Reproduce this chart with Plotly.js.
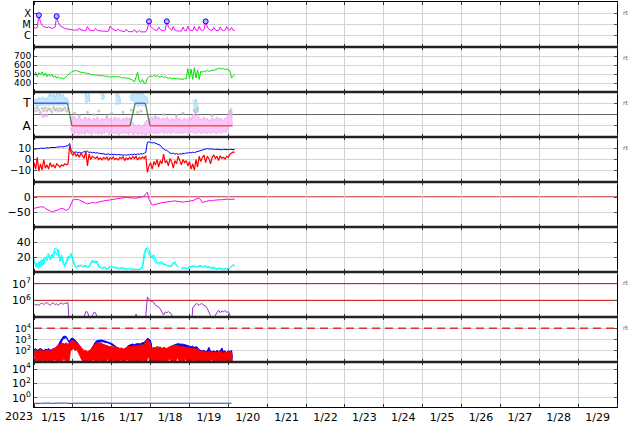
<!DOCTYPE html>
<html><head><meta charset="utf-8">
<script src="https://cdn.plot.ly/plotly-3.0.1.min.js"></script>
<style>html,body{margin:0;padding:0;background:#fff}#c{width:634px;height:424px}</style>
</head><body><div id="c"></div>
<script>
// ---- time base: hourly samples starting 2023-01-15 00:00 ----
const startDate = '2023-01-15';
const xRange = ['2023-01-15 00:00', '2023-01-30 00:00'];
const yearLabel = '2023';

// Panel 1: X-ray flux (W/m2), hourly
const xrayFlux = [5.2e-6,4.6e-6,5.5e-6,6.6e-5,1.6e-5,8.5e-6,6.5e-6,5.8e-6,5.2e-6,6.0e-6,
 5.0e-6,4.6e-6,4.9e-6,5.5e-6,5.4e-5,1.5e-5,8.0e-6,6.2e-6,5.0e-6,4.4e-6,
 4.2e-6,3.8e-6,3.6e-6,3.5e-6,3.3e-6,3.1e-6,3.4e-6,3.0e-6,4.8e-6,3.2e-6,
 2.9e-6,3.0e-6,2.8e-6,6.5e-6,3.4e-6,3.0e-6,2.8e-6,2.7e-6,4.5e-6,3.0e-6,
 2.8e-6,2.6e-6,2.7e-6,2.5e-6,2.6e-6,2.4e-6,2.6e-6,7.0e-6,4.5e-6,3.4e-6,
 3.0e-6,2.8e-6,4.0e-6,2.9e-6,2.6e-6,2.5e-6,2.3e-6,3.8e-6,2.5e-6,2.3e-6,
 2.2e-6,2.3e-6,3.5e-6,2.2e-6,2.1e-6,3.0e-6,2.2e-6,2.1e-6,2.0e-6,2.2e-6,
 4.0e-6,1.9e-5,7.0e-6,4.5e-6,3.6e-6,3.2e-6,3.0e-6,6.0e-6,3.5e-6,3.0e-6,
 2.8e-6,3.2e-6,1.9e-5,6.0e-6,3.8e-6,3.0e-6,6.5e-6,3.2e-6,2.7e-6,2.6e-6,
 2.8e-6,2.6e-6,6.0e-6,3.0e-6,2.7e-6,7.0e-6,3.2e-6,2.9e-6,2.8e-6,6.5e-6,
 3.2e-6,2.8e-6,6.8e-6,3.3e-6,2.9e-6,3.5e-6,1.9e-5,6.0e-6,3.8e-6,3.2e-6,
 3.0e-6,5.5e-6,3.2e-6,2.9e-6,3.0e-6,6.0e-6,3.3e-6,3.0e-6,3.1e-6,6.5e-6,
 3.4e-6,3.2e-6,5.5e-6,3.0e-6,2.9e-6];
const flareHours = [3, 14, 71, 82, 106];
const flareFlux = [6.6e-5, 5.4e-5, 1.9e-5, 1.9e-5, 1.9e-5];
const xrayTickVals = [1e-6, 1e-5, 1e-4];
const xrayTickText = ['C', 'M', 'X'];

// Panel 2: solar wind speed (km/s), hourly
const windSpeed = [480,520,470,515,490,525,480,510,470,500,
 475,495,465,480,455,470,450,460,445,455,
 470,490,510,520,530,535,540,530,525,520,
 515,520,505,510,500,495,490,495,485,490,
 480,485,478,482,472,478,470,465,470,475,
 468,472,466,470,460,455,462,450,455,448,
 445,430,410,460,520,420,405,440,395,400,
 455,470,480,470,485,475,480,470,465,475,
 460,470,455,450,460,445,455,450,445,450,
 440,445,440,450,445,560,450,555,440,570,
 455,545,440,530,520,535,525,540,530,535,
 545,540,550,555,560,565,555,562,550,558,
 545,535,455,470,495];

// Panel 3: IMF sector (T = +1, A = -1)
const sectorHours = [0, 20.7, 23.4, 59.3, 62.5, 68.7, 71.7, 122.3];
const sectorValue = [1, 1, -1, -1, 1, 1, -1, -1];
const sectorTickVals = [1, -1];
const sectorTickText = ['T', 'A'];
const towardHours = [0,1,2,3,4,5,6,7,8,9,10,11,12,13,14,15,16,17,18,19,20,21,
 31,32,33,34, 41,42,43, 50,51,52,53, 59,60,61,62,63,64,65,66,67,68,69,70, 98,99,100,101, 121,122];
const towardHi = [1.2,1.4,1.3,1.5,1.3,1.6,1.4,1.5,1.3,1.7,1.9,1.6,1.85,1.5,1.9,1.7,1.9,1.6,1.8,1.4,1.5,1.3,
 1.8,1.9,1.6,1.85, 1.9,1.7,1.9, 1.9,1.7,1.9,1.5, 1.6,1.8,1.9,1.7,1.9,1.85,1.9,1.8,1.9,1.7,1.6,1.5, 1.3,1.1,1.4,0.9, 0.6,0.5];
const towardLo = [0.7,0.8,0.75,0.8,0.85,0.8,0.9,0.8,0.85,0.8,0.9,0.85,0.8,0.9,0.8,0.85,0.9,0.8,0.85,0.9,0.8,0.9,
 1.2,1.0,1.3,1.1, 1.4,1.3,1.5, 0.8,1.0,0.9,1.1, 1.2,1.3,1.2,1.0,0.8,0.7,0.9,0.75,0.85,0.8,1.0,1.1, 0.3,0.1,0.4,0.2, 0.0,-0.1];
const awayHoursEarly = [4,5,6,7,8];
const awayHiEarly = [0.05,-0.05,0.0,-0.1,0.05];
const awayLoEarly = [-0.2,-0.25,-0.25,-0.2,-0.15];
const awayStart = 22;
const awayHi = [-0.3,-0.2,-0.4,-0.1,-0.5,-0.3,-0.2,-0.4,-0.6,-0.3,
 -0.2,-0.5,-0.3,-0.4,-0.6,-0.3,-0.5,-0.2,-0.4,-0.6,
 -0.3,-0.5,-0.4,-0.2,-0.5,-0.3,-0.6,-0.4,-0.2,-0.5,
 -0.3,-0.4,-0.6,-0.3,-0.5,-0.2,-0.4,-0.3,-0.6,-0.8,
 -0.9,
 -1.0,-1.1,-0.9,-1.2,-1.0,-0.9,
 -0.6,-0.5,-0.3,-0.4,-0.2,-0.5,-0.3,-0.4,-0.2,-0.5,
 -0.4,-0.3,-0.5,-0.2,-0.4,-0.6,-0.3,-0.5,-0.4,-0.2,
 -0.5,-0.3,-0.6,-0.4,-0.3,-0.5,-0.4,-0.2,-0.5,0.0,
 0.05,-0.1,0.0,-0.3,-0.5,-0.4,-0.2,-0.5,-0.3,-0.6,
 -0.4,-0.3,-0.5,-0.4,-0.2,-0.5,-0.3,-0.4,-0.6,-0.3,
 -0.4,0.2,0.1,0.2];
const awayLo = [-1.2,-1.6,-1.8,-1.7,-1.5,-1.8,-1.6,-1.75,-1.5,-1.8,
 -1.4,-1.7,-1.6,-1.85,-1.5,-1.7,-1.6,-1.75,-1.5,-1.8,
 -1.6,-1.7,-1.45,-1.65,-1.8,-1.5,-1.7,-1.6,-1.75,-1.5,
 -1.85,-1.6,-1.7,-1.5,-1.75,-1.6,-1.8,-1.5,-1.7,-1.85,
 -1.6,
 -1.7,-1.8,-1.6,-1.75,-1.7,-1.8,
 -1.8,-1.6,-1.75,-1.5,-1.7,-1.6,-1.75,-1.55,-1.7,-1.6,
 -1.5,-1.75,-1.6,-1.7,-1.55,-1.75,-1.6,-1.5,-1.7,-1.65,
 -1.55,-1.75,-1.6,-1.7,-1.5,-1.65,-1.75,-1.6,-1.5,-1.7,
 -1.6,-1.75,-1.5,-1.65,-1.7,-1.55,-1.6,-1.75,-1.5,-1.7,
 -1.6,-1.65,-1.5,-1.75,-1.6,-1.55,-1.7,-1.6,-1.5,-1.65,
 -1.3,-1.0,-0.9,-1.1];
const greyHours = [0,1,2,3,4,5,6,7,8,9,10,11,12,13,14,15,16,17,18,19,20,21,
 25,28,33,37,40,45,48,55,60,64,66,75,80,88,92,99,100,101,110,121];
const greyValue = [0.5,0.3,0.6,0.4,0.2,0.55,0.35,0.6,0.3,0.5,0.45,0.25,0.6,0.4,0.5,0.3,0.55,0.35,0.45,0.6,0.3,0.5,
 0.1,-0.1,0.2,0.0,0.3,-0.2,0.1,0.2,0.4,0.2,0.3,-0.2,0.0,-0.1,0.1,0.4,0.2,0.5,-0.1,0.3];

// Panel 4: Bt (blue) and Bz (red), nT, hourly
const bt = [10,9.5,10.2,10,10.5,10.3,10.8,10.5,11,10.7,
 11.2,11,11.5,11.2,11.6,11.4,11.8,12,11.7,12.2,
 12.5,12.8,15,8,7,6.5,7.2,6.3,6.8,6,
 6.5,7.5,6.8,7.8,6.5,7,6.2,6.8,6,6.4,
 5.8,5.5,5.2,5.6,5,4.8,5.2,4.6,5,4.5,
 4.8,4.3,4.6,4.2,4.5,4.1,4.4,4,4.5,4.2,
 4.8,4.4,5,4.6,5.2,4.8,5.5,5,5.8,6.5,
 16,16.5,16,15.5,15.8,15,14.5,13.8,13.3,11,
 9.5,8.8,8.5,7,6,5.5,6,5,5.6,4.8,
 5.4,5,5.8,5.5,6.2,6,6.5,6.2,6.8,6.5,
 7,7.5,8.2,9,9.5,10,9.8,10.2,9.6,10,
 9.5,9.8,9.3,9.6,9.2,9.5,9,9.4,9.1,9.5,
 9.2,9.6,9.3,9,9.1];
const bz = [-3,-9,2,-11,-4,-10,0,-8,-5,-9,
 -3,-7,-5,-8,-4,-6,-7,-5,-6,-4,
 -5,-4,13,6,4,7,3,5,2,6,
 4,1,8,-6,5,0,3,2,1,2.5,
 0,1.5,-0.5,2,0.5,2.2,-1,1.8,0.5,2.4,
 0,1.2,-0.5,2,0.8,2.6,-1,1.5,0,2,
 0.5,2.8,1,3,-0.5,2,0.5,2.5,1,3.5,
 -12,-6,-3,-9,-2,-5,0,-7,-1,-4,
 5,-3,-1,-6,1,-2,-8,-1,-4,3,
 -2,-5,0,-3,-1,-6,-2,-9,-4,-10,
 0,-7,3,-2,2,4,-3,3,1,-4,
 2,4,1,3,-1,3.5,1,2,0.5,3,
 2,5,6,7,6.5];

// Panel 5: Dst (nT), hourly
const dst = [-38,-36,-35,-34,-33,-32,-33,-38,-42,-44,
 -46,-50,-48,-47,-45,-43,-40,-38,-39,-42,
 -45,-41,-36,-22,-10,-8,-7,-8,-10,-13,
 -16,-19,-21,-23,-22,-20,-18,-19,-20,-18,
 -16,-15,-14,-13,-12,-11,-10,-10,-9,-8,
 -6,-5,-4,-3,-2,-2,-1,-1,-2,-3,
 -3,-4,-4,-4,-3,-2,0,1,3,10,
 16,-8,-20,-27,-26,-24,-22,-21,-20,-19,
 -18,-17,-16,-15,-14,-13,-12,-13,-14,-15,
 -15,-16,-17,-16,-16,-15,-14,-13,-12,-10,
 -7,-5,-4,-10,-19,-17,-15,-13,-12,-12,
 -13,-11,-10,-10,-10,-9,-9,-8,-8,-7,
 -7,-8,-7,-7,-7];

// Panel 6: density (two cyan series), hourly
const dens1 = [18,7,12,5,15,8,18,17,22,25,
 20,18,26,32,31,25,14,23,15,7,
 12,18,22,25,18,10,5,7,9,8,
 6,9,7,8,6,10,14,15,12,15,
 8,6,4,7,5,3,6,7,8,6,
 7,5,6,4,5,6,4,5,4,5,
 3,4,3,4,3,3.5,4,5,18,28,
 33,30,22,18,23,16,12,10,13,14,
 11,10,9,8,9,7,11,14,10,7,
 null,5,6,5,5.5,4,6,8,7,9,
 6,8,7,9,6,8,7,5,8,6,
 4,7,5,3,6,4,5,3,5,4,
 3,6,8,9,8];
const dens2 = [15,10,6,14,7,17,10,20,15,22,
 16,24,19,28,23,30,18,20,10,9,
 16,21,19,23,15,8,6,9,7,10,
 8,7,9,6,8,12,16,12,15,11,
 6,7,5,5,7,4,5,8,6,7,
 5,6,4,5,6,4,5,3,5,4,
 4,3,4,3,4,3,5,8,25,32,
 29,24,19,22,17,13,11,13,11,12,
 9,11,8,9,7,9,13,11,8,6,
 null,4,5,6,4,5,7,6,8,7,
 8,6,9,7,8,6,9,7,6,5,
 6,5,4,5,4,5,3,4,3,5,
 4,5,7,10,9];

// Panel 7: purple series (log), hourly; 1e4 = below scale
const p7 = [6.5e5,5.0e5,6.0e5,4.8e5,6.3e5,7.0e5,5.5e5,6.8e5,7.2e5,6.0e5,
 5.0e5,6.5e5,7.0e5,5.5e5,6.2e5,5.0e5,6.5e5,7.0e5,5.8e5,6.5e5,
 6.8e5,7.2e5,
 1e4,1e4,1e4,1e4,1e4,1e4,1e4,1e4,1e4,
 1.1e5,2.1e5,2.0e5,1.0e5,1e4,1.2e5,1.9e5,1.8e5,1.0e5,
 1e4,1e4,1e4,1e4,1e4,1e4,1e4,1e4,1e4,1e4,1e4,1e4,1e4,1e4,1e4,1e4,1e4,1e4,1e4,1e4,1e4,1e4,1e4,
 1.5e5, 1e4,1e4,1e4,1e4,1e4,
 1.0e5,1.6e6,1.1e6,9.0e5,8.5e5,7.5e5,5.0e5,4.5e5,4.0e5,3.0e5,2.0e5,1.3e5,2.0e5,1.8e5,2.1e5,1.8e5,1.5e5,
 1e4,1e4,1e4,1e4,1e4,1e4,1e4,1e4,1e4,1e4,1e4,1e4,
 3.5e5,5.0e5,6.3e5,6.0e5,5.0e5,6.3e5,6.0e5,5.0e5,4.5e5,3.2e5,2.0e5,1.2e5,
 1e4,1e4,
 1.3e5,2.0e5,2.6e5,1.8e5,2.3e5,2.0e5,2.5e5,1.9e5,2.1e5,1.4e5,
 1e4];
const p7Lines = [1e6, 1e7];
const p7TickVals = [1e6, 1e7];
const p7TickText = ['10<sup>6</sup>', '10<sup>7</sup>'];

// Panel 8: blue / red noisy series, log10 of upper and lower envelope per hour
const p8BlueHiLog = [2.1,2.2,2.05,2.15,2.2,2.1,2.0,2.15,2.1,2.2,
 2.05,2.1,2.2,2.15,2.3,2.5,2.8,3.1,3.25,3.3,
 3.25,2.9,2.85,3.1,3.1,3.0,2.85,2.7,2.5,2.2,
 1.9,1.8,1.9,1.7,1.85,2.0,2.3,2.6,2.8,2.9,
 2.95,2.95,2.95,2.9,2.9,2.85,2.8,2.7,2.65,2.55,
 2.45,2.35,2.25,2.1,1.9,1.8,2.0,2.3,2.45,2.5,
 2.55,2.6,2.55,2.6,2.65,2.6,2.65,2.7,2.75,2.9,
 3.1,3.05,2.9,2.0,1.9,2.0,1.8,1.9,2.0,1.85,
 1.95,2.0,1.9,2.05,2.2,2.3,2.45,2.55,2.6,2.63,
 2.6,2.62,2.58,2.55,2.5,2.45,2.4,2.35,2.4,2.3,
 2.35,2.3,2.1,2.0,1.95,2.05,1.9,2.0,2.3,1.95,
 1.9,2.0,1.85,2.05,1.9,2.0,2.25,1.9,2.0,1.85,
 2.0,1.9,2.05];
const p8BlueLoLog = [1.2,1.5,1.1,1.4,1.0,1.3,1.1,1.5,1.2,1.0,1.4,1.1,1.3,1.2,1.5,
 2.35,2.65,2.95,3.1,3.15,3.1,2.75,2.7,2.95,2.95,2.85,2.7,2.55,2.35,
 1.3,1.1,1.2,1.0,1.1,1.3,1.5,
 2.15,2.45,2.65,2.75,2.8,2.8,2.8,2.75,2.75,2.7,2.65,2.55,2.5,2.4,2.3,2.2,2.1,1.9,
 1.2,1.0,1.3,
 2.1,2.25,2.3,2.35,2.4,2.35,2.4,2.45,2.4,2.45,2.5,2.55,2.7,2.9,2.85,2.6,
 1.1,1.3,1.0,1.2,1.1,1.4,1.0,1.2,1.3,1.1,1.5,
 1.9,2.05,2.2,2.3,2.35,2.4,2.35,2.4,2.35,2.3,2.25,2.2,2.15,2.1,2.15,2.05,2.1,2.05,
 1.3,1.5,1.2,1.6,1.1,1.4,1.7,1.2,1.5,1.3,1.0,1.6,1.2,1.4,1.5,1.1,1.3,1.2,1.5,1.1,1.4];
const p8RedHiLog = [2.0,2.1,1.95,2.05,2.1,2.0,1.9,2.05,2.0,2.1,
 1.95,2.05,2.15,2.2,2.35,2.5,2.6,2.7,2.65,2.6,
 2.7,2.55,2.75,2.9,2.95,2.85,2.7,2.6,2.45,2.3,
 2.1,2.0,2.05,1.9,2.0,2.1,2.3,2.5,2.65,2.7,
 2.65,2.7,2.6,2.55,2.5,2.45,2.4,2.35,2.4,2.3,
 2.35,2.25,2.3,2.2,2.25,2.15,2.2,2.3,2.35,2.4,
 2.35,2.4,2.45,2.4,2.5,2.45,2.55,2.5,2.6,2.8,
 3.0,2.9,2.4,2.2,2.3,2.25,2.4,2.3,2.35,2.2,
 2.3,2.25,2.2,2.3,2.35,2.45,2.5,2.45,2.5,2.4,
 2.45,2.35,2.4,2.3,2.35,2.25,2.3,2.2,2.25,2.2,
 2.15,2.2,2.0,1.9,2.05,1.85,1.95,1.8,2.0,1.85,
 1.9,1.75,1.95,1.8,1.9,2.0,1.85,1.75,1.9,1.8,
 1.95,1.85,1.9];
const p8RedLoLog = [1.0,1.2,1.0,1.1,1.0,1.3,1.0,1.0,1.2,1.0,
 1.1,1.0,1.3,1.0,1.1,1.0,1.2,1.0,1.4,1.0,
 1.1,1.0,
 2.0,2.1,2.2,2.0,2.1,1.9,1.5,1.2,
 1.0,1.1,1.0,1.2,1.0,1.0,1.3,1.0,1.1,1.0,
 1.2,1.0,1.0,1.1,1.0,1.3,1.0,1.0,1.2,1.0,
 1.1,1.0,1.0,1.2,1.0,1.1,1.0,1.3,1.0,1.0,
 1.1,1.0,1.2,1.0,1.0,1.1,1.0,1.2,1.0,1.0,
 1.6,1.0,1.1,1.0,1.0,1.2,1.0,1.1,1.0,1.0,
 1.2,1.0,1.0,1.3,1.1,1.0,1.2,1.0,1.4,1.1,
 1.0,1.2,1.0,1.3,1.0,1.1,1.0,1.0,1.2,1.0,
 1.0,1.1,1.0,1.0,1.2,1.0,1.1,1.0,1.0,1.3,
 1.0,1.1,1.0,1.2,1.0,1.0,1.1,1.0,1.2,1.0,
 1.0,1.1,1.0];
const p8Threshold = [1e4];
const p8TickVals = [1e2, 1e3, 1e4];
const p8TickText = ['10<sup>2</sup>', '10<sup>3</sup>', '10<sup>4</sup>'];

// Panel 9: dark blue series (log), hourly
const p9 = [0.17,0.16,0.18,0.17,0.16,0.17,0.18,0.17,0.16,0.17,
 0.18,0.16,0.17,0.17,0.16,0.18,0.17,0.16,0.17,0.18,
 0.17,0.16,0.17,0.18,0.16,0.17,0.17,0.16,0.18,0.17,
 0.16,0.17,0.18,0.17,0.16,0.17,0.18,0.16,0.17,0.17,
 0.18,0.16,0.17,0.17,0.16,0.18,0.17,0.17,0.16,0.17,
 0.18,0.17,0.16,0.17,0.17,0.16,0.18,0.17,0.16,0.17,
 0.17,0.18,0.16,0.17,0.18,0.17,0.16,0.17,0.17,0.16,
 0.18,0.17,0.16,0.17,0.16,0.18,0.17,0.17,0.16,0.18,
 0.17,0.16,0.17,0.18,0.17,0.16,0.17,0.17,0.18,0.16,
 0.17,0.18,0.16,0.17,0.17,0.16,0.18,0.17,0.16,0.17,
 0.18,0.17,0.16,0.17,0.17,0.18,0.16,0.17,0.17,0.16,
 0.17,0.18,0.17,0.16,0.17,0.18,0.16,0.17,0.17,0.16,
 0.18,0.17,0.17];
const p9TickVals = [1, 1e2, 1e4];
const p9TickText = ['10<sup>0</sup>', '10<sup>2</sup>', '10<sup>4</sup>'];

// ---------------- helpers ----------------
const T0 = Date.UTC(2023, 0, 15);
function d(h) {
  const t = new Date(T0 + h * 3600000);
  const p = n => String(n).padStart(2, '0');
  return t.getUTCFullYear() + '-' + p(t.getUTCMonth() + 1) + '-' + p(t.getUTCDate()) + ' ' + p(t.getUTCHours()) + ':' + p(t.getUTCMinutes());
}
const hx = arr => arr.map((_, i) => d(i));
const seq = (a, n) => Array.from({length: n}, (_, i) => a + i);
const pow10 = v => Math.pow(10, v);
const ax = i => (i === 1 ? '' : String(i));
// split into contiguous runs of hours, each returned as a closed band polygon (upper edge then lower edge back)
function bands(hours, hi, lo, tf) {
  const f = tf || (v => v);
  const out = [];
  let run = [];
  const flush = () => {
    if (!run.length) return;
    const x = [], y = [];
    run.forEach(k => { x.push(d(hours[k])); y.push(f(hi[k])); });
    for (let m = run.length - 1; m >= 0; m--) { const k = run[m]; x.push(d(hours[k] + 0.5)); y.push(f(lo[k])); }
    out.push({x, y});
    run = [];
  };
  for (let i = 0; i < hours.length; i++) {
    if (run.length && hours[i] !== hours[run[run.length - 1]] + 1) flush();
    run.push(i);
  }
  flush();
  return out;
}

const traces = [];
function add(panel, t) { t.xaxis = 'x' + ax(panel); t.yaxis = 'y' + ax(panel); t.hoverinfo = 'skip'; traces.push(t); }
function addBands(panel, list, fillCol, lineCol, lw) {
  list.forEach(b => add(panel, {x: b.x, y: b.y, mode: 'lines', fill: 'toself', fillcolor: fillCol, line: {color: lineCol, width: lw}}));
}

// Panel 1
add(1, {x: hx(xrayFlux), y: xrayFlux, mode: 'lines', line: {color: '#ff00ff', width: 1}});
add(1, {x: flareHours.map(d), y: flareFlux, mode: 'markers', marker: {symbol: 'circle', size: 5, color: '#b4b4ff', line: {color: '#0000ff', width: 1}}});
// Panel 2
add(2, {x: hx(windSpeed), y: windSpeed, mode: 'lines', line: {color: '#00e000', width: 1}});
// Panel 3 clouds
addBands(3, bands(towardHours, towardHi, towardLo), 'rgba(170,222,250,0.7)', 'rgba(150,210,250,0.8)', 1);
addBands(3, bands(awayHoursEarly, awayHiEarly, awayLoEarly), 'rgba(250,175,245,0.7)', 'rgba(248,160,240,0.8)', 1);
addBands(3, bands(seq(awayStart, awayHi.length), awayHi, awayLo), 'rgba(250,175,245,0.7)', 'rgba(248,160,240,0.8)', 1);
add(3, {x: greyHours.map(d), y: greyValue, mode: 'markers', marker: {color: 'rgba(190,190,190,0.85)', size: 3}});
for (let j = 0; j < sectorHours.length - 1; j++) {
  const a = sectorValue[j], b = sectorValue[j + 1];
  const col = (a > 0 && b > 0) ? '#5555ff' : (a < 0 && b < 0) ? '#ff4f4f' : '#4a8a4a';
  add(3, {x: [d(sectorHours[j]), d(sectorHours[j + 1])], y: [a, b], mode: 'lines', line: {color: col, width: 1.3}});
}
// Panel 4
add(4, {x: hx(bt), y: bt, mode: 'lines', line: {color: '#0000ff', width: 1}});
add(4, {x: hx(bz), y: bz, mode: 'lines', line: {color: '#ff0000', width: 1.2}});
// Panel 5
add(5, {x: hx(dst), y: dst, mode: 'lines', line: {color: '#ff00ff', width: 1}});
// Panel 6
add(6, {x: hx(dens2), y: dens2, mode: 'lines', line: {color: '#00ffff', width: 1}});
add(6, {x: hx(dens1), y: dens1, mode: 'lines', line: {color: '#00ffff', width: 1}});
// Panel 7
p7Lines.forEach(v => add(7, {x: xRange, y: [v, v], mode: 'lines', line: {color: '#cc0000', width: 1}}));
add(7, {x: hx(p7), y: p7, mode: 'lines', line: {color: '#9932cc', width: 1}});
// Panel 8
add(8, {x: xRange, y: [p8Threshold[0], p8Threshold[0]], mode: 'lines', line: {color: '#e03030', width: 1.5, dash: '8px,5px'}});
addBands(8, bands(seq(0, p8BlueHiLog.length), p8BlueHiLog, p8BlueLoLog, pow10), '#0000ff', '#0000ff', 1);
addBands(8, bands(seq(0, p8RedHiLog.length), p8RedHiLog, p8RedLoLog, pow10), '#ff0000', '#ff0000', 1);
// Panel 9
add(9, {x: hx(p9), y: p9, mode: 'lines', line: {color: '#2a3aa8', width: 1}});

// ---------------- layout ----------------
const N = 9;
const layout = {
  width: 634, height: 424, margin: {l: 34, r: 17, t: 2, b: 17},
  paper_bgcolor: '#ffffff', plot_bgcolor: '#ffffff', showlegend: false,
  font: {family: 'DejaVu Sans', size: 11, color: '#000'},
  shapes: [], annotations: []
};
const yConf = {
  1: {type: 'log', range: [-7, -3], tickvals: xrayTickVals, ticktext: xrayTickText, tickfont: {size: 10}},
  2: {range: [300, 800], tickvals: [400, 500, 600, 700], tickfont: {size: 9}},
  3: {range: [-2, 2], tickvals: sectorTickVals, ticktext: sectorTickText, zeroline: true, zerolinecolor: '#666', zerolinewidth: 1.2, tickfont: {size: 12}},
  4: {range: [-21, 21], tickvals: [-10, 0, 10], ticktext: ['\u221210', '0', '10'], tickfont: {size: 10}},
  5: {range: [-100, 50], tickvals: [-50, 0], ticktext: ['\u221250', '0']},
  6: {range: [0, 60], tickvals: [20, 40]},
  7: {type: 'log', range: [5, 7.7], tickvals: p7TickVals, ticktext: p7TickText, showgrid: false},
  8: {type: 'log', range: [1, 5], tickvals: p8TickVals, ticktext: p8TickText, tickfont: {size: 9.5}},
  9: {type: 'log', range: [-1.3, 5], tickvals: p9TickVals, ticktext: p9TickText}
};
for (let i = 1; i <= N; i++) {
  const s = ax(i);
  const top = 1 - (i - 1) / N, bot = 1 - i / N;
  layout['xaxis' + s] = {
    domain: [0, 1], anchor: 'y' + s, type: 'date', range: xRange,
    showgrid: true, gridcolor: '#d4d4d4', gridwidth: 1,
    tick0: startDate, dtick: 86400000,
    ticks: 'inside', ticklen: 3, tickcolor: '#333',
    showline: true, linecolor: '#000', linewidth: 1, mirror: 'ticks',
    showticklabels: i === N, tickformat: '%-m/%-d', ticklabelmode: 'period',
    tickfont: {size: 11}, zeroline: false
  };
  if (i > 1) layout['xaxis' + s].matches = 'x';
  layout['yaxis' + s] = Object.assign({
    domain: [bot, top], anchor: 'x' + s,
    showgrid: true, gridcolor: '#d4d4d4', gridwidth: 1, zeroline: false,
    ticks: 'inside', ticklen: 3, tickcolor: '#555',
    showline: true, linecolor: '#000', linewidth: 1, mirror: 'ticks',
    fixedrange: true, tickfont: {size: 11}
  }, yConf[i]);
  if (i < N) {
    layout.shapes.push({type: 'line', xref: 'paper', yref: 'paper', x0: 0, x1: 1, y0: bot, y1: bot, line: {color: '#222', width: 2.5}});
  }
}
// zero reference lines (panel 4 dark red, panel 5 soft red)
layout.shapes.push({type: 'line', xref: 'paper', yref: 'y4', x0: 0, x1: 1, y0: 0, y1: 0, line: {color: '#a00000', width: 1.2}, layer: 'below'});
layout.shapes.push({type: 'line', xref: 'paper', yref: 'y5', x0: 0, x1: 1, y0: 0, y1: 0, line: {color: '#d06a6a', width: 2}, layer: 'below'});
// "rt" marks at right of some panels
[1, 2, 3, 4, 7, 8].forEach(i => {
  const topPx = 2 + 45 * (i - 1) + 10;
  layout.annotations.push({xref: 'paper', yref: 'paper', x: 1.007, y: (407 - topPx) / 405, xanchor: 'left', yanchor: 'middle',
    text: 'rt', showarrow: false, font: {size: 6, color: '#555'}});
});
layout.annotations.push({xref: 'paper', yref: 'paper', x: -0.026, y: -0.024, xanchor: 'center', yanchor: 'middle',
  text: yearLabel, showarrow: false, font: {size: 11, color: '#000'}});

Plotly.newPlot('c', traces, layout, {staticPlot: true, displayModeBar: false});
</script>
</body></html>
